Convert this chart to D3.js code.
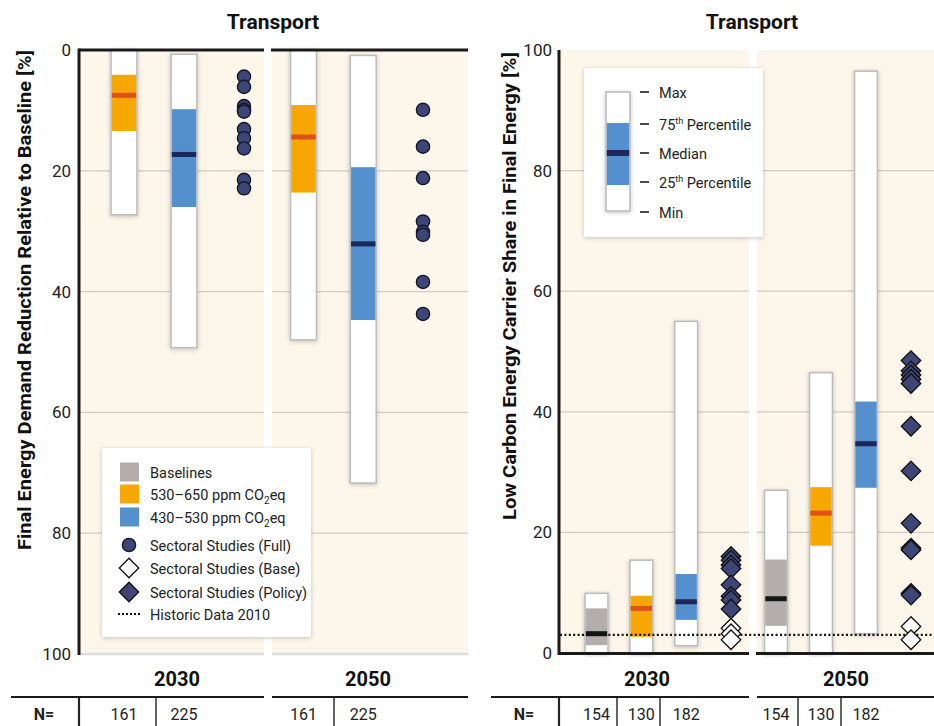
<!DOCTYPE html>
<html><head><meta charset="utf-8">
<script src="https://cdn.jsdelivr.net/npm/d3@7"></script>
<style>
html,body{margin:0;padding:0;background:#fff;}
svg{display:block;}
</style></head>
<body>
<svg id="chart" width="934" height="726"></svg>
<script>
// ---------------- DATA ----------------
const years = ["2030", "2050"];
const panelTitle = "Transport";
const leftTitle = "Final Energy Demand Reduction Relative to Baseline [%]";
const rightTitle = "Low Carbon Energy Carrier Share in Final Energy [%]";
const yTicks = [0, 20, 40, 60, 80, 100];

// box values: [min, q25, median, q75, max]
const leftScenarios = ["650", "530"];
const leftBoxes2030 = [[0, 4.1, 7.5, 13.4, 27.3], [0.7, 9.8, 17.3, 26.0, 49.3]];
const leftBoxes2050 = [[0, 9.1, 14.4, 23.6, 48.0], [0.9, 19.4, 32.1, 44.7, 71.7]];
const leftFull2030 = [4.4, 6.1, 9.3, 9.9, 10.2, 13.1, 14.6, 16.3, 21.5, 22.9];
const leftFull2050 = [9.9, 16.0, 21.2, 28.4, 30.1, 30.6, 38.4, 43.7];
const leftN = ["161", "225"];

const rightScenarios = ["base", "650", "530"];
const rightBoxes2030 = [[0, 1.3, 3.2, 7.4, 9.9], [0, 2.7, 7.4, 9.5, 15.4], [1.2, 5.5, 8.5, 13.1, 55.0]];
const rightBoxes2050 = [[0, 4.5, 9.0, 15.5, 27.0], [0, 17.8, 23.2, 27.5, 46.5], [3.2, 27.4, 34.7, 41.7, 96.5]];
const rightPolicy2030 = [16.0, 15.4, 14.6, 14.0, 11.3, 9.4, 8.8, 7.3];
const rightBase2030 = [4.1, 3.2, 2.2];
const rightPolicy2050 = [48.5, 46.8, 46.1, 45.4, 44.7, 37.6, 30.2, 21.5, 17.4, 17.1, 9.9, 9.6];
const rightBase2050 = [4.4, 2.2];
const rightN = ["154", "130", "182"];
const historic2010 = 3.0;

const legendLabels = ["Baselines", "530–650 ppm CO", "430–530 ppm CO", "Sectoral Studies (Full)", "Sectoral Studies (Base)", "Sectoral Studies (Policy)", "Historic Data 2010"];
const boxLegendLabels = ["Max", "75", "Median", "25", "Min"];

// ---------------- STYLE ----------------
const FONT = "Roboto, sans-serif";
const fillC = {base: "#b3aeab", "650": "#f6a800", "530": "#5490cd"};
const medC = {base: "#161616", "650": "#e0501b", "530": "#1b2858"};
const cream = "#fdf6ea";
const markFill = "#3d4676";

const svg = d3.select("#chart").style("font-family", FONT);
const defs = svg.append("defs");
const f = defs.append("filter").attr("id", "sh").attr("x", "-40%").attr("y", "-10%").attr("width", "180%").attr("height", "120%");
f.append("feDropShadow").attr("dx", 0).attr("dy", 1).attr("stdDeviation", 2.2).attr("flood-color", "#000").attr("flood-opacity", 0.22);

// ---------------- SCALES ----------------
const yL = d3.scaleLinear().domain([0, 100]).range([50, 654]);
const yR = d3.scaleLinear().domain([0, 100]).range([653, 50]);

const leftPanels = [
  {x0: 80, x1: 264, slots: d3.scalePoint().domain([...leftScenarios, "studies"]).range([124, 244]), label: 177, seps: [79, 156]},
  {x0: 272, x1: 468, slots: d3.scalePoint().domain([...leftScenarios, "studies"]).range([303.5, 423]), label: 368, seps: [334]}
];
const rightPanels = [
  {x0: 559, x1: 749, slots: d3.scalePoint().domain([...rightScenarios, "studies"]).range([596.5, 731]), label: 647, seps: [559, 617, 660]},
  {x0: 757, x1: 934, slots: d3.scalePoint().domain([...rightScenarios, "studies"]).range([776, 911]), label: 846, seps: [798, 841]}
];

// ---------------- HELPERS ----------------
function drawBox(g, cx, w, box, key, y) {
  const [mn, q25, md, q75, mx] = box;
  const top = Math.min(y(mn), y(mx)), bot = Math.max(y(mn), y(mx));
  g.append("rect").attr("x", cx - w / 2).attr("y", top).attr("width", w).attr("height", bot - top)
    .attr("fill", "#fff").attr("stroke", "#bdbdbd").attr("stroke-width", 1.6).attr("filter", "url(#sh)");
  const t2 = Math.min(y(q25), y(q75)), b2 = Math.max(y(q25), y(q75));
  g.append("rect").attr("x", cx - w / 2 + 0.8).attr("y", t2).attr("width", w - 1.6).attr("height", b2 - t2).attr("fill", fillC[key]);
  g.append("rect").attr("x", cx - w / 2 + 0.8).attr("y", y(md) - 2.5).attr("width", w - 1.6).attr("height", 5).attr("fill", medC[key]);
}
const diamond = d3.symbol(d3.symbolSquare, 190);
function drawDiamond(g, x, yy, filled) {
  g.append("path").attr("d", diamond()).attr("transform", `translate(${x},${yy}) rotate(45)`)
    .attr("fill", filled ? markFill : "#fff").attr("stroke", "#111").attr("stroke-width", 1.3);
}
function drawCircle(g, x, yy) {
  g.append("circle").attr("cx", x).attr("cy", yy).attr("r", 6.6).attr("fill", markFill).attr("stroke", "#15172a").attr("stroke-width", 1.4);
}

// ================= LEFT CHART =================
const L = svg.append("g");
leftPanels.forEach(p => L.append("rect").attr("x", p.x0).attr("y", yL(0)).attr("width", p.x1 - p.x0).attr("height", yL(100) - yL(0)).attr("fill", cream));
leftPanels.forEach(p => {
  L.selectAll(null).data(yTicks.filter(t => t > 0 && t < 100)).enter().append("line")
    .attr("x1", p.x0).attr("x2", p.x1).attr("y1", d => yL(d)).attr("y2", d => yL(d)).attr("stroke", "#cfcac3").attr("stroke-width", 1.3);
  L.append("line").attr("x1", p.x0).attr("x2", p.x1).attr("y1", yL(100)).attr("y2", yL(100)).attr("stroke", "#dcdcdc").attr("stroke-width", 2.5);
});
[leftBoxes2030, leftBoxes2050].forEach((boxes, i) => {
  const p = leftPanels[i];
  boxes.forEach((b, j) => drawBox(L, p.slots(leftScenarios[j]), 26, b, leftScenarios[j], yL));
});
[leftFull2030, leftFull2050].forEach((vals, i) => {
  const p = leftPanels[i];
  vals.forEach(v => drawCircle(L, p.slots("studies"), yL(v)));
});
L.append("line").attr("x1", 79).attr("x2", 79).attr("y1", 48.5).attr("y2", 655).attr("stroke", "#1a1a1a").attr("stroke-width", 3);
leftPanels.forEach(p => L.append("line").attr("x1", p.x0 - 1).attr("x2", p.x1).attr("y1", 50).attr("y2", 50).attr("stroke", "#1a1a1a").attr("stroke-width", 3));
const axL = d3.axisLeft(yL).tickValues(yTicks).tickSize(0).tickPadding(0);
const gAxL = L.append("g").attr("transform", "translate(71,0)").call(axL);
gAxL.select(".domain").remove();
gAxL.selectAll("text").attr("font-size", 17).attr("fill", "#222").attr("font-family", FONT);
L.append("text").attr("transform", "translate(31,300) rotate(-90)").attr("text-anchor", "middle")
  .attr("font-size", 19).attr("font-weight", "bold").attr("fill", "#111")
  .attr("textLength", 500).attr("lengthAdjust", "spacingAndGlyphs").text(leftTitle);
L.append("text").attr("x", 273).attr("y", 29).attr("text-anchor", "middle").attr("font-size", 21).attr("font-weight", "bold").attr("fill", "#111").text(panelTitle);
leftPanels.forEach((p, i) => {
  L.append("text").attr("x", p.label).attr("y", 686).attr("text-anchor", "middle").attr("font-size", 20).attr("font-weight", "bold").attr("fill", "#111").text(years[i]);
  L.append("line").attr("x1", i === 0 ? 11 : p.x0).attr("x2", p.x1).attr("y1", 697).attr("y2", 697).attr("stroke", "#1a1a1a").attr("stroke-width", 2.2);
  p.seps.forEach((s, k) => L.append("line").attr("x1", s).attr("x2", s).attr("y1", 698).attr("y2", 726).attr("stroke", "#222").attr("stroke-width", (i === 0 && k === 0) ? 2.2 : 1.4));
  leftScenarios.forEach((sc, j) => L.append("text").attr("x", p.slots(sc)).attr("y", 720).attr("text-anchor", "middle").attr("font-size", 16).attr("fill", "#222").text(leftN[j]));
});
L.append("text").attr("x", 44).attr("y", 720).attr("text-anchor", "middle").attr("font-size", 16).attr("font-weight", "bold").attr("fill", "#222").text("N=");

// left legend
const LG = svg.append("g");
LG.append("rect").attr("x", 102).attr("y", 448).attr("width", 209).attr("height", 189).attr("fill", "#fff").attr("filter", "url(#sh)");
const lgY = [472, 494, 517, 545, 568, 592, 614];
[["base", 0], ["650", 1], ["530", 2]].forEach(([k, i]) => {
  LG.append("rect").attr("x", 120).attr("y", lgY[i] - 9.5).attr("width", 19).attr("height", 19).attr("fill", fillC[k]);
});
drawCircle(LG, 129, lgY[3]);
drawDiamond(LG, 129, lgY[4], false);
drawDiamond(LG, 129, lgY[5], true);
LG.append("line").attr("x1", 118).attr("x2", 140).attr("y1", lgY[6]).attr("y2", lgY[6]).attr("stroke", "#111").attr("stroke-width", 2).attr("stroke-dasharray", "2,2");
legendLabels.forEach((lab, i) => {
  const t = LG.append("text").attr("x", 150).attr("y", lgY[i] + 5.5).attr("font-size", 14.5).attr("fill", "#222").text(lab);
  if (i === 1 || i === 2) {
    t.append("tspan").attr("font-size", 10).attr("dy", 4).text("2");
    t.append("tspan").attr("dy", -4).text("eq");
  }
});

// ================= RIGHT CHART =================
const R = svg.append("g");
rightPanels.forEach(p => R.append("rect").attr("x", p.x0).attr("y", yR(100)).attr("width", p.x1 - p.x0).attr("height", yR(0) - yR(100)).attr("fill", cream));
rightPanels.forEach(p => {
  R.selectAll(null).data(yTicks.filter(t => t > 0 && t < 100)).enter().append("line")
    .attr("x1", p.x0).attr("x2", p.x1).attr("y1", d => yR(d)).attr("y2", d => yR(d)).attr("stroke", "#cfcac3").attr("stroke-width", 1.3);
});
[rightBoxes2030, rightBoxes2050].forEach((boxes, i) => {
  const p = rightPanels[i];
  boxes.forEach((b, j) => drawBox(R, p.slots(rightScenarios[j]), 23, b, rightScenarios[j], yR));
});
R.append("line").attr("x1", 560).attr("x2", 934).attr("y1", yR(historic2010)).attr("y2", yR(historic2010))
  .attr("stroke", "#111").attr("stroke-width", 2.2).attr("stroke-dasharray", "2,2.4");
[[rightPolicy2030, rightBase2030], [rightPolicy2050, rightBase2050]].forEach(([pol, bas], i) => {
  const p = rightPanels[i];
  const cx = p.slots("studies");
  pol.forEach(v => drawDiamond(R, cx, yR(v), true));
  bas.forEach(v => drawDiamond(R, cx, yR(v), false));
});
R.append("line").attr("x1", 559).attr("x2", 559).attr("y1", 50).attr("y2", 655).attr("stroke", "#1a1a1a").attr("stroke-width", 3);
rightPanels.forEach(p => R.append("line").attr("x1", p.x0 - 1).attr("x2", p.x1).attr("y1", 653.5).attr("y2", 653.5).attr("stroke", "#1a1a1a").attr("stroke-width", 3));
const axR = d3.axisLeft(yR).tickValues(yTicks).tickSize(0).tickPadding(0);
const gAxR = R.append("g").attr("transform", "translate(552,0)").call(axR);
gAxR.select(".domain").remove();
gAxR.selectAll("text").attr("font-size", 17).attr("fill", "#222").attr("font-family", FONT);
R.append("text").attr("transform", "translate(516,286) rotate(-90)").attr("text-anchor", "middle")
  .attr("font-size", 19).attr("font-weight", "bold").attr("fill", "#111")
  .attr("textLength", 468).attr("lengthAdjust", "spacingAndGlyphs").text(rightTitle);
R.append("text").attr("x", 752).attr("y", 29).attr("text-anchor", "middle").attr("font-size", 21).attr("font-weight", "bold").attr("fill", "#111").text(panelTitle);
rightPanels.forEach((p, i) => {
  R.append("text").attr("x", p.label).attr("y", 686).attr("text-anchor", "middle").attr("font-size", 20).attr("font-weight", "bold").attr("fill", "#111").text(years[i]);
  R.append("line").attr("x1", i === 0 ? 491 : p.x0).attr("x2", p.x1).attr("y1", 697).attr("y2", 697).attr("stroke", "#1a1a1a").attr("stroke-width", 2.2);
  p.seps.forEach((s, k) => R.append("line").attr("x1", s).attr("x2", s).attr("y1", 698).attr("y2", 726).attr("stroke", "#222").attr("stroke-width", (i === 0 && k === 0) ? 2.2 : 1.4));
  rightScenarios.forEach((sc, j) => R.append("text").attr("x", p.slots(sc)).attr("y", 720).attr("text-anchor", "middle").attr("font-size", 16).attr("fill", "#222").text(rightN[j]));
});
R.append("text").attr("x", 524).attr("y", 720).attr("text-anchor", "middle").attr("font-size", 16).attr("font-weight", "bold").attr("fill", "#222").text("N=");

// right legend (box explanation)
const RG = svg.append("g");
RG.append("rect").attr("x", 584).attr("y", 68).attr("width", 179).attr("height", 169).attr("fill", "#fff").attr("filter", "url(#sh)");
RG.append("rect").attr("x", 606).attr("y", 92).attr("width", 24).attr("height", 119).attr("fill", "#fff").attr("stroke", "#bdbdbd").attr("stroke-width", 1.6).attr("filter", "url(#sh)");
RG.append("rect").attr("x", 606.8).attr("y", 123).attr("width", 22.4).attr("height", 62).attr("fill", fillC["530"]);
RG.append("rect").attr("x", 606.8).attr("y", 150).attr("width", 22.4).attr("height", 6).attr("fill", medC["530"]);
const rlY = [92, 124, 153, 182, 212];
boxLegendLabels.forEach((lab, i) => {
  RG.append("line").attr("x1", 640).attr("x2", 649).attr("y1", rlY[i]).attr("y2", rlY[i]).attr("stroke", "#111").attr("stroke-width", 1.5);
  const t = RG.append("text").attr("x", 659).attr("y", rlY[i] + 5.5).attr("font-size", 14.5).attr("fill", "#222").text(lab);
  if (lab === "75" || lab === "25") {
    t.append("tspan").attr("font-size", 9).attr("dy", -6).text("th");
    t.append("tspan").attr("dy", 6).text(" Percentile");
  }
});
</script>
</body></html>
